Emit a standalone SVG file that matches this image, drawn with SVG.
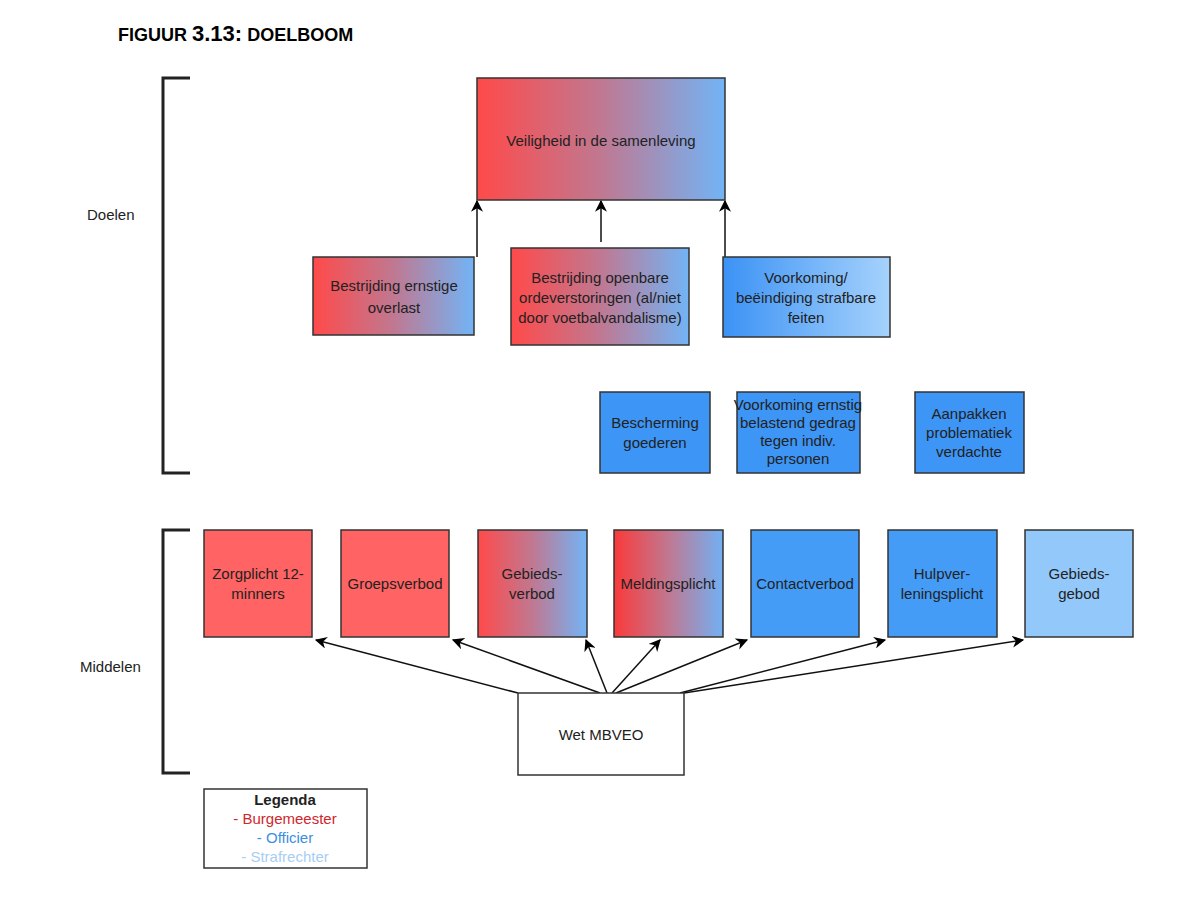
<svg xmlns="http://www.w3.org/2000/svg" width="1200" height="899" viewBox="0 0 1200 899">
<defs>
<linearGradient id="rb" x1="0" x2="1" y1="0" y2="0"><stop offset="0" stop-color="#ff4a4a"/><stop offset="0.5" stop-color="#c07891"/><stop offset="1" stop-color="#72b4f6"/></linearGradient>
<linearGradient id="rb2" x1="0" x2="1" y1="0" y2="0"><stop offset="0" stop-color="#fa3a3a"/><stop offset="0.5" stop-color="#c07891"/><stop offset="1" stop-color="#72b0f4"/></linearGradient>
<linearGradient id="bb" x1="0" x2="1" y1="0" y2="0"><stop offset="0" stop-color="#3b92f5"/><stop offset="1" stop-color="#a6d2fc"/></linearGradient>
<marker id="ah" viewBox="0 0 10 10" refX="9" refY="5" markerWidth="8" markerHeight="8" orient="auto"><path d="M0,0 L10,5 L0,10 L3,5 Z" fill="#000"/></marker>
<style>
.b{stroke:#333;stroke-width:1.5}
.t{font-family:"Liberation Sans",Arial,sans-serif;font-size:15px;fill:#222;text-anchor:middle}
.c line{stroke:#111;stroke-width:1.5;marker-end:url(#ah)}
.br{fill:none;stroke:#222;stroke-width:3}
</style>
</defs>
<rect width="1200" height="899" fill="#fff"/>
<text x="118" y="41" font-family="Liberation Sans,Arial,sans-serif" font-weight="bold" font-size="18" fill="#000">FIGUUR <tspan font-size="22">3.13:</tspan> DOELBOOM</text>
<path class="br" d="M190,78 H163 V473 H190"/>
<path class="br" d="M190,530 H163 V773 H190"/>
<text x="87" y="220" class="t" style="text-anchor:start">Doelen</text>
<text x="80" y="672" class="t" style="text-anchor:start">Middelen</text>
<g class="c">
<line x1="477" y1="257" x2="477" y2="201"/>
<line x1="601" y1="242" x2="601" y2="201"/>
<line x1="725" y1="257" x2="725" y2="201"/>
<line x1="518" y1="693" x2="316" y2="640"/>
<line x1="600" y1="693" x2="453" y2="640"/>
<line x1="607" y1="693" x2="586" y2="640"/>
<line x1="612" y1="693" x2="660" y2="640"/>
<line x1="616" y1="693" x2="747" y2="640"/>
<line x1="680" y1="693" x2="885" y2="640"/>
<line x1="684" y1="693" x2="1023" y2="640"/>
</g>
<g id="veiligheid"><rect class="b" x="477" y="78" width="248" height="122" fill="url(#rb)"/><text class="t" x="601" y="146">Veiligheid in de samenleving</text></g>
<g id="overlast"><rect class="b" x="313" y="257" width="161" height="78" fill="url(#rb)"/><text class="t" x="394" y="291">Bestrijding ernstige</text><text class="t" x="394" y="313">overlast</text></g>
<g id="orde"><rect class="b" x="511" y="248" width="178" height="97" fill="url(#rb)"/><text class="t" x="600" y="283" font-size="14">Bestrijding openbare</text><text class="t" x="600" y="303" font-size="14">ordeverstoringen (al/niet</text><text class="t" x="600" y="323" font-size="14">door voetbalvandalisme)</text></g>
<g id="strafbare"><rect class="b" x="723" y="257" width="167" height="80" fill="url(#bb)"/><text class="t" x="806" y="283">Voorkoming/</text><text class="t" x="806" y="303">beëindiging strafbare</text><text class="t" x="806" y="323">feiten</text></g>
<g id="goederen"><rect class="b" x="600" y="392" width="110" height="81" fill="#3d95f5"/><text class="t" x="655" y="428">Bescherming</text><text class="t" x="655" y="448">goederen</text></g>
<g id="personen"><rect class="b" x="737" y="392" width="123" height="81" fill="#3d95f5"/><text class="t" x="798" y="410" font-size="13.5">Voorkoming ernstig</text><text class="t" x="798" y="428" font-size="13.5">belastend gedrag</text><text class="t" x="798" y="446" font-size="13.5">tegen indiv.</text><text class="t" x="798" y="464" font-size="13.5">personen</text></g>
<g id="verdachte"><rect class="b" x="915" y="392" width="109" height="81" fill="#3d95f5"/><text class="t" x="969" y="419">Aanpakken</text><text class="t" x="969" y="438">problematiek</text><text class="t" x="969" y="457">verdachte</text></g>
<g id="zorgplicht"><rect class="b" x="204" y="530" width="108" height="107" fill="#ff6363"/><text class="t" x="258" y="579">Zorgplicht 12-</text><text class="t" x="258" y="599">minners</text></g>
<g id="groepsverbod"><rect class="b" x="341" y="530" width="108" height="107" fill="#ff6363"/><text class="t" x="395" y="589">Groepsverbod</text></g>
<g id="gebiedsverbod"><rect class="b" x="478" y="530" width="109" height="107" fill="url(#rb)"/><text class="t" x="532" y="579">Gebieds-</text><text class="t" x="532" y="599">verbod</text></g>
<g id="meldingsplicht"><rect class="b" x="614" y="530" width="109" height="107" fill="url(#rb2)"/><text class="t" x="668" y="589">Meldingsplicht</text></g>
<g id="contactverbod"><rect class="b" x="751" y="530" width="108" height="107" fill="#449cf7"/><text class="t" x="805" y="589">Contactverbod</text></g>
<g id="hulpverlening"><rect class="b" x="888" y="530" width="109" height="107" fill="#449cf7"/><text class="t" x="942" y="579">Hulpver-</text><text class="t" x="942" y="599">leningsplicht</text></g>
<g id="gebiedsgebod"><rect class="b" x="1025" y="530" width="108" height="107" fill="#93c8fb"/><text class="t" x="1079" y="579">Gebieds-</text><text class="t" x="1079" y="599">gebod</text></g>
<g id="wet"><rect class="b" x="518" y="693" width="166" height="82" fill="#fff"/><text class="t" x="601" y="740">Wet MBVEO</text></g>
<g id="legenda"><rect class="b" x="204" y="789" width="163" height="79" fill="#fff"/>
<text class="t" x="285" y="805" font-weight="bold" fill="#111">Legenda</text>
<text class="t" x="285" y="824" style="fill:#d0262c">- Burgemeester</text>
<text class="t" x="285" y="843" style="fill:#3c8ee0">- Officier</text>
<text class="t" x="285" y="862" style="fill:#a8cdf2">- Strafrechter</text></g>
</svg>
